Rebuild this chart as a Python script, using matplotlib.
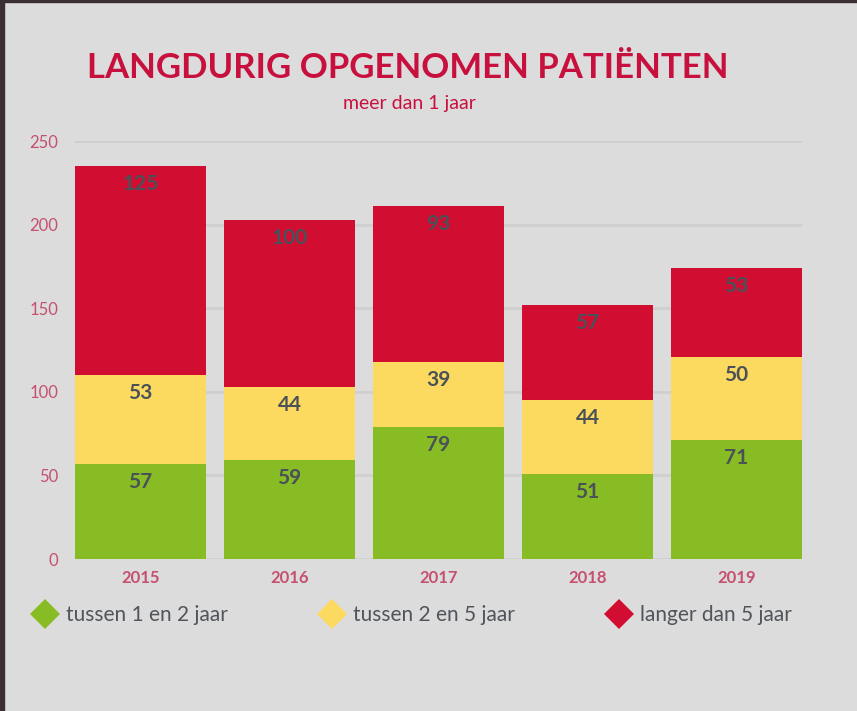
import numpy as np
import matplotlib.pyplot as plt
from matplotlib.lines import Line2D
from matplotlib.patches import Rectangle

years = ['2015', '2016', '2017', '2018', '2019']
tussen_1_2 = [57, 59, 79, 51, 71]
tussen_2_5 = [53, 44, 39, 44, 50]
langer_5 = [125, 100, 93, 57, 53]
series_names = ['tussen 1 en 2 jaar', 'tussen 2 en 5 jaar', 'langer dan 5 jaar']
colors = ['#87bc24', '#fcda5f', '#d20d32']

bg = '#dcdcdc'
crimson = '#c8103e'
tick_col = '#c5506f'
val_col = '#4b5158'

plt.rcParams['font.family'] = ['Lato', 'DejaVu Sans']

fig = plt.figure(figsize=(8.57, 7.11), dpi=100, facecolor=bg)
ax = fig.add_axes([75/857, 152/711, 727/857, 418/711])
ax.set_facecolor(bg)

x = np.arange(len(years))
bottom = np.zeros(len(years))
for vals, col in zip([tussen_1_2, tussen_2_5, langer_5], colors):
    vals = np.array(vals)
    ax.bar(x, vals, width=0.88, bottom=bottom, color=col, zorder=2)
    for xi, b, v in zip(x, bottom, vals):
        ax.annotate(str(v), (xi, b + v), xytext=(0, -13), textcoords='offset points',
                    ha='center', va='center', fontsize=15, fontweight='bold',
                    color=val_col, zorder=3)
    bottom += vals

ax.set_xlim(-0.44, 4.44)
ax.set_ylim(0, 250)
ax.set_yticks([0, 50, 100, 150, 200, 250])
ax.set_xticks(x)
ax.set_xticklabels(years, fontweight='bold')
ax.tick_params(axis='both', length=0, colors=tick_col, labelsize=12)
ax.tick_params(axis='y', pad=12)
ax.tick_params(axis='x', pad=8)
ax.grid(axis='y', color='#cfcfcf', linewidth=2, zorder=0)
for s in ax.spines.values():
    s.set_visible(False)

fig.text(408/857, 1 - 68/711, 'LANGDURIG OPGENOMEN PATIËNTEN', ha='center', va='center',
         fontsize=25, fontweight='bold', color=crimson)
fig.text(409/857, 1 - 104/711, 'meer dan 1 jaar', ha='center', va='center',
         fontsize=14, color=crimson)

handles = [Line2D([], [], marker='D', linestyle='none', markersize=15, color=c,
                  markeredgewidth=0) for c in colors]
leg = fig.legend(handles, series_names, ncol=3, loc='center left',
                 bbox_to_anchor=(35/857, 1 - 615/711), frameon=False,
                 handletextpad=0.5, handlelength=1.0, borderaxespad=0, borderpad=0,
                 columnspacing=4.5, prop={'size': 15})
for t in leg.get_texts():
    t.set_color('#50555b')

fig.patches.append(Rectangle((0, 0), 4/857, 1, transform=fig.transFigure, color='#3a2f34'))
fig.patches.append(Rectangle((0, 1 - 2/711), 1, 2/711, transform=fig.transFigure, color='#3a2f34'))

fig.savefig('out.png', dpi=100, facecolor=bg)
